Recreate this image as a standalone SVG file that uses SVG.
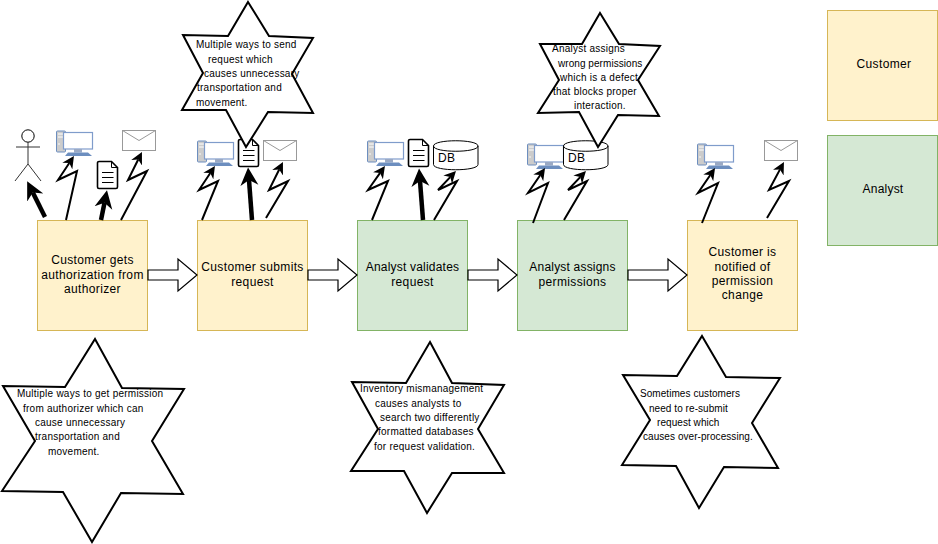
<svg xmlns="http://www.w3.org/2000/svg" xmlns:xlink="http://www.w3.org/1999/xlink" width="938" height="544" viewBox="0 0 938 544">
<style>
text{font-family:"Liberation Sans",Arial,sans-serif;fill:#000}
.b{font-size:12px;text-anchor:middle;letter-spacing:.36px}
.s{font-size:10px;letter-spacing:.24px}
.t{font-size:10px;letter-spacing:.06px}
.n{font-size:12px;text-anchor:middle;letter-spacing:.2px}
.d{font-size:12px;letter-spacing:.36px}
.y{fill:#fff2cc;stroke:#d6b656;stroke-width:1}
.g{fill:#d5e8d4;stroke:#82b366;stroke-width:1}
.star{fill:#fff;stroke:#000;stroke-width:2;stroke-linejoin:miter}
.block{fill:#fff;stroke:#000;stroke-width:1.2;stroke-linejoin:miter}
.thick{fill:none;stroke:#000;stroke-width:4.5;marker-end:url(#hT)}
.bolt{fill:none;stroke:#000;stroke-width:2;stroke-linejoin:miter;marker-end:url(#hB)}
.db{fill:#fff;stroke:#000;stroke-width:1}
</style>
<defs>
<marker id="hT" markerUnits="userSpaceOnUse" markerWidth="20" markerHeight="20" refX="5.4" refY="10" orient="auto"><path d="M0,1 L18,10 L0,19 L5.4,10 Z" fill="#000"/></marker>
<marker id="hB" markerUnits="userSpaceOnUse" markerWidth="14" markerHeight="14" refX="3.6" refY="7" orient="auto"><path d="M0,1 L12,7 L0,13 L3.6,7 Z" fill="#000"/></marker>
<g id="pc">
<rect x="0.5" y="1" width="9" height="21" rx="1" fill="#ccc" stroke="#6c8ebf"/>
<path d="M2,4H8M2,7H8" stroke="#fff" stroke-width="1" fill="none"/>
<circle cx="3" cy="14" r="0.8" fill="#fff"/>
<rect x="7.5" y="2.5" width="29" height="16.500" fill="#fff" stroke="#7f9ccb" stroke-width="1.2"/>
<rect x="18" y="19" width="8" height="3.500" fill="#9aa9c4"/>
<path d="M12,22.500H32L36,26H9Z" fill="#6c8ebf"/>
</g>
<g id="mail">
<rect x="0.5" y="0.5" width="33" height="20" fill="#fff" stroke="#999" stroke-width="1"/>
<path d="M0.500,0.500L17,10.500L33.500,0.500" fill="none" stroke="#999" stroke-width="1"/>
</g>
<g id="doc">
<path d="M2,0.500H14.500L20.500,6.500V26A1.500,1.500 0 0 1 19,27.500H2A1.500,1.500 0 0 1 0.500,26V2A1.500,1.500 0 0 1 2,0.500Z" fill="#fff" stroke="#000" stroke-width="1.600"/>
<path d="M14.500,0.500V6.500H20.500" fill="none" stroke="#000" stroke-width="1"/>
<path d="M5,11.500H16.500M5,16.500H16.500M5,21.500H16.500" stroke="#000" stroke-width="1.200"/>
</g>
<g id="cyl">
<path d="M0.500,6C0.500,-1 45,-1 45,6V24.500C45,31.500 0.500,31.500 0.500,24.500Z" class="db"/>
<path d="M0.500,6C0.500,13 45,13 45,6" fill="none" stroke="#000" stroke-width="1"/>
</g>
</defs>
<rect width="938" height="544" fill="#fff"/>

<g id="legend-customer"><rect class="y" x="827.500" y="10.500" width="110" height="110"/><text class="b" x="884" y="67.500">Customer</text></g>
<g id="legend-analyst"><rect class="g" x="827.500" y="135.500" width="110" height="110"/><text class="n" x="883" y="192.500">Analyst</text></g>

<g id="step1"><rect class="y" x="37.500" y="220.500" width="110" height="110"/><text class="b" x="92.500" y="264">Customer gets</text><text class="b" x="92.500" y="279">authorization from</text><text class="b" x="92.500" y="293">authorizer</text></g>
<g id="step2"><rect class="y" x="197.500" y="220.500" width="110" height="110"/><text class="b" x="252.500" y="271">Customer submits</text><text class="b" x="252.500" y="286">request</text></g>
<g id="step3"><rect class="g" x="357.500" y="220.500" width="110" height="110"/><text class="n" x="412.500" y="271">Analyst validates</text><text class="b" x="412.500" y="286">request</text></g>
<g id="step4"><rect class="g" x="517.500" y="220.500" width="110" height="110"/><text class="n" x="572.500" y="271">Analyst assigns</text><text class="b" x="572.500" y="286">permissions</text></g>
<g id="step5"><rect class="y" x="687.500" y="220.500" width="110" height="110"/><text class="b" x="742.500" y="256">Customer is</text><text class="b" x="742.500" y="271">notified of</text><text class="b" x="742.500" y="285">permission</text><text class="b" x="742.500" y="299">change</text></g>

<g id="actor" fill="none" stroke="#333" stroke-width="1"><circle cx="28" cy="136" r="6.200" fill="#fff" stroke="#000"/><path d="M28,142V164M16,147H40M15,181L28,164L41,181"/></g>
<g id="pc1"><use xlink:href="#pc" href="#pc" x="56" y="130"/></g>
<g id="pc2"><use xlink:href="#pc" href="#pc" x="197" y="140"/></g>
<g id="pc3"><use xlink:href="#pc" href="#pc" x="367" y="140"/></g>
<g id="pc4"><use xlink:href="#pc" href="#pc" x="527" y="143"/></g>
<g id="pc5"><use xlink:href="#pc" href="#pc" x="697" y="143"/></g>
<g id="mail1"><use xlink:href="#mail" href="#mail" x="122" y="130"/></g>
<g id="mail2"><use xlink:href="#mail" href="#mail" x="263" y="140"/></g>
<g id="mail5"><use xlink:href="#mail" href="#mail" x="764" y="140"/></g>
<g id="doc1"><use xlink:href="#doc" href="#doc" x="97" y="161"/></g>
<g id="doc2"><use xlink:href="#doc" href="#doc" x="238" y="139"/></g>
<g id="doc3"><use xlink:href="#doc" href="#doc" x="408" y="139"/></g>
<g id="db3"><use xlink:href="#cyl" href="#cyl" x="433" y="140"/><text class="d" x="438" y="162">DB</text></g>
<g id="db4"><use xlink:href="#cyl" href="#cyl" x="563" y="140"/><text class="d" x="568" y="162">DB</text></g>

<g id="connectors">
<path class="block" d="M148,270H178V259L197,275L178,291V280H148Z"/>
<path class="block" d="M308,270H338V259L357,275L338,291V280H308Z"/>
<path class="block" d="M468,270H498V259L517,275L498,291V280H468Z"/>
<path class="block" d="M628,270H668V259L687,275L668,291V280H628Z"/>
<path class="thick" d="M45,217L32.800,192.600"/>
<path class="thick" d="M101,220L104.500,202.700"/>
<path class="thick" d="M252,220L249,180"/>
<path class="thick" d="M423,220L420,181"/>
<path class="bolt" d="M66,220L77,171L58,180L69.300,163"/>
<path class="bolt" d="M121,220L147,171L128,180L138.200,159.500"/>
<path class="bolt" d="M202,220L218,181L199,190L210.300,173"/>
<path class="bolt" d="M266,218L288,181L269,190L279.200,169.500"/>
<path class="bolt" d="M372,220L388,181L368,190L380.100,172.900"/>
<path class="bolt" d="M434,220L457,181L438,190L450.200,177.100"/>
<path class="bolt" d="M533,223L548,183L528,193L540.300,175"/>
<path class="bolt" d="M564,220L587,181L568,190L580.200,177.100"/>
<path class="bolt" d="M702,223L718,183L698,193L710.300,175"/>
<path class="bolt" d="M767,218L789,181L769,190L780,169.400"/>
</g>

<g id="star-send"><polygon class="star" points="248,2 269,36 313,38 292,74 313,113 268,112 246,147 226,110 182,110 203,73 183,35 228,36"/>
<text class="s" x="196" y="48">Multiple ways to send</text><text class="s" x="208" y="63">request which</text><text class="s" x="204" y="77">causes unnecessary</text><text class="s" x="197" y="91">transportation and</text><text class="s" x="196" y="106">movement.</text></g>
<g id="star-assign"><polygon class="star" points="600,13 619,44 660,46 638,80 659,116 618,115 598,147 579,112 538,113 559,80 540,44 582,44"/>
<text class="s" x="552" y="52">Analyst assigns</text><text class="t" x="558" y="67">wrong permissions</text><text class="s" x="560" y="81">which is a defect</text><text class="s" x="553" y="95">that blocks proper</text><text class="s" x="574" y="109">interaction.</text></g>
<g id="star-permission"><polygon class="star" points="95,339 122,388 184,389 152,441 183,494 121,493 92,542 63,492 2,491 35,441 3,386 65,387"/>
<text class="s" x="17" y="397">Multiple ways to get permission</text><text class="s" x="23" y="412">from authorizer which can</text><text class="s" x="35" y="426">cause unnecessary</text><text class="s" x="35" y="440">transportation and</text><text class="s" x="48" y="455">movement.</text></g>
<g id="star-inventory"><polygon class="star" points="430,342 452,383 504,385 478,429 504,473 452,473 427,513 404,471 351,471 378,429 352,382 406,383"/>
<text class="s" x="360" y="392">Inventory mismanagement</text><text class="s" x="375" y="407">causes analysts to</text><text class="s" x="380" y="421">search two differently</text><text class="s" x="378" y="435">formatted databases</text><text class="s" x="374" y="450">for request validation.</text></g>
<g id="star-resubmit"><polygon class="star" points="702,336 726,377 780,378 752,423 778,468 724,467 699,508 676,466 622,465 650,420 623,375 677,376"/>
<text class="t" x="640" y="397">Sometimes customers</text><text class="t" x="649" y="412">need to re-submit</text><text class="t" x="657" y="426">request which</text><text class="t" x="643" y="440">causes over-processing.</text></g>
</svg>
